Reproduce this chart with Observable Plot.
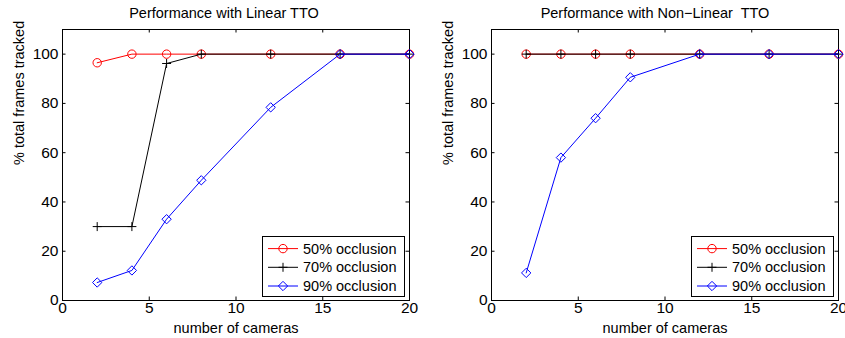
<!DOCTYPE html>
<html><head><meta charset="utf-8">
<script src="https://cdn.jsdelivr.net/npm/d3@7"></script>
<script src="https://cdn.jsdelivr.net/npm/@observablehq/plot@0.6"></script>
<style>
body{margin:0;background:#fff;}
#wrap{display:flex;width:845px;height:338px;background:#fff;}
svg{display:block}
svg text{white-space:pre}
</style></head><body><div id="wrap"></div>
<script>
const cameras = [2, 4, 6, 8, 12, 16, 20];
const seriesNames = ["50% occlusion", "70% occlusion", "90% occlusion"];
const linear50 = [96.5, 100, 100, 100, 100, 100, 100];
const linear70 = [30, 30, 96.2, 100, 100, 100, 100];
const linear90 = [7.3, 12.2, 33, 48.8, 78.4, 100, 100];
const nonlinear50 = [100, 100, 100, 100, 100, 100, 100];
const nonlinear70 = [100, 100, 100, 100, 100, 100, 100];
const nonlinear90 = [11.2, 58, 74, 90.6, 100, 100, 100];
const xTicks = [0, 5, 10, 15, 20];
const yTicks = [0, 20, 40, 60, 80, 100];
const titles = ["Performance with Linear TTO", "Performance with Non\u2212Linear  TTO"];
const xLabel = "number of cameras";
const yLabel = "% total frames tracked";

const colors = ["#ff0000", "#000000", "#0000ff"];
const symbols = ["circle", "plus", "diamond2"];
const d3symbols = [d3.symbolCircle, d3.symbolPlus, d3.symbolDiamond2];
const rs = [4.2, 3, 4.2];
const FONT = "'Liberation Sans', Arial, Helvetica, sans-serif";

function panel({width, ml, mr, title, series, titleDx}) {
  const H = 338, mt = 29, mb = 38;
  const fw = width - ml - mr, fh = H - mt - mb;
  const tick = 3.5;
  const marks = [
    Plot.frame({stroke: "black", strokeWidth: 1}),
    Plot.tickX(xTicks, {x: d => d, insetTop: fh - tick, stroke: "black"}),
    Plot.tickX(xTicks, {x: d => d, insetBottom: fh - tick, stroke: "black"}),
    Plot.tickY(yTicks, {y: d => d, insetRight: fw - tick, stroke: "black"}),
    Plot.tickY(yTicks, {y: d => d, insetLeft: fw - tick, stroke: "black"}),
    Plot.axisX(xTicks, {tickSize: 0, tickPadding: 1, fontSize: 15.5, label: null}),
    Plot.axisY(yTicks, {tickSize: 0, tickPadding: 4, fontSize: 15.5, label: null}),
    Plot.text([xLabel], {frameAnchor: "bottom", dy: 28, lineAnchor: "middle", fontSize: 14.5}),
    Plot.text([yLabel], {frameAnchor: "left", dx: -43, rotate: -90, lineAnchor: "middle", fontSize: 14.5}),
    Plot.text([title], {frameAnchor: "top", dy: -16, dx: titleDx, lineAnchor: "middle", fontSize: 14.5})
  ];
  series.forEach((vals, i) => {
    const d = cameras.map((c, j) => ({x: c, y: vals[j], s: seriesNames[i]}));
    marks.push(Plot.line(d, {x: "x", y: "y", stroke: colors[i], strokeWidth: 1}));
    marks.push(Plot.dot(d, {x: "x", y: "y", stroke: colors[i], symbol: symbols[i], r: rs[i], strokeWidth: 1, fill: "none"}));
  });
  const svg = Plot.plot({
    width, height: H,
    marginLeft: ml, marginRight: mr, marginTop: mt, marginBottom: mb,
    x: {domain: [0, 20]},
    y: {domain: [0, 110]},
    style: {fontFamily: FONT, fontSize: "15px", color: "black", background: "white", overflow: "visible"},
    marks
  });
  // legend
  const bw = 142, bh = 60;
  const bx = width - mr - 5 - bw, by = H - mb - 4 - bh;
  const g = d3.select(svg).append("g").attr("transform", `translate(${bx},${by})`);
  g.append("rect").attr("x", 0.5).attr("y", 0.5).attr("width", bw).attr("height", bh)
    .attr("fill", "white").attr("stroke", "black").attr("stroke-width", 1);
  seriesNames.forEach((name, i) => {
    const cy = 12.6 + i * 18.7;
    g.append("line").attr("x1", 6).attr("x2", 36).attr("y1", cy).attr("y2", cy)
      .attr("stroke", colors[i]).attr("stroke-width", 1);
    g.append("path").attr("transform", `translate(21,${cy})`)
      .attr("d", d3.symbol(d3symbols[i], rs[i] * rs[i] * Math.PI)())
      .attr("fill", "none").attr("stroke", colors[i]).attr("stroke-width", 1);
    g.append("text").attr("x", 41).attr("y", cy).attr("dy", "0.35em")
      .attr("text-anchor", "start")
      .attr("font-size", 14.5).attr("font-family", FONT).attr("fill", "black").text(name);
  });
  return svg;
}

const wrap = document.getElementById("wrap");
wrap.append(panel({width: 422, ml: 62, mr: 13, title: titles[0], series: [linear50, linear70, linear90], titleDx: -12}));
wrap.append(panel({width: 423, ml: 69, mr: 7, title: titles[1], series: [nonlinear50, nonlinear70, nonlinear90], titleDx: -10}));
</script></body></html>
